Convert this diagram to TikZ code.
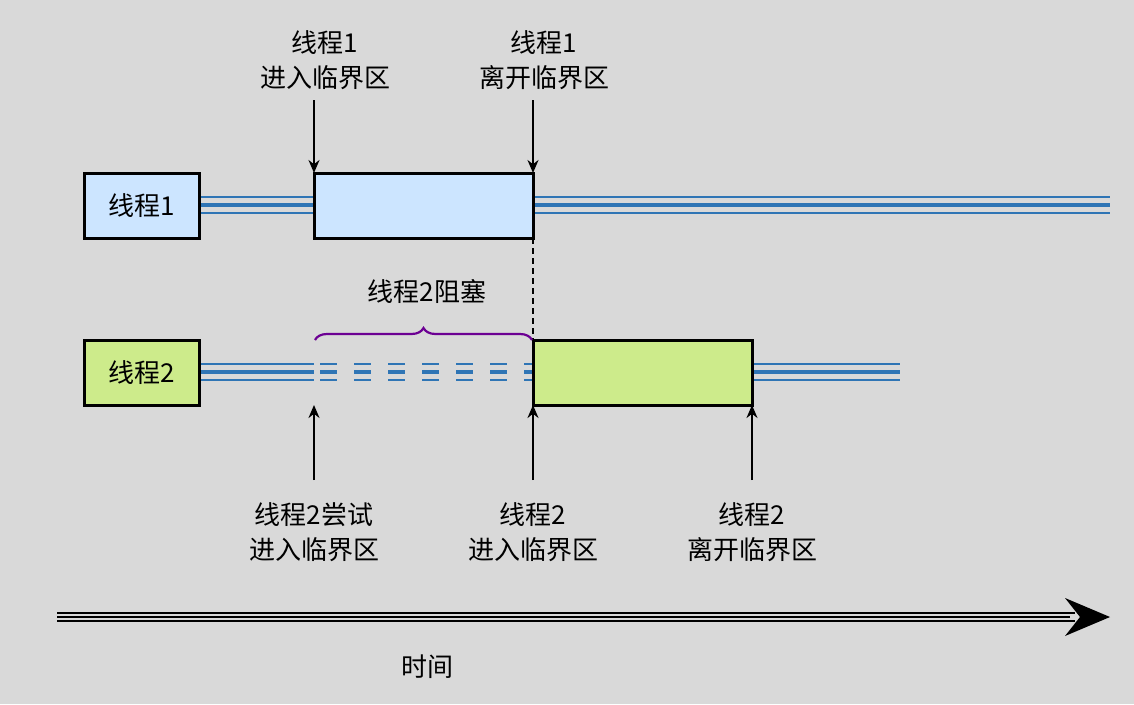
\documentclass[tikz,border=0pt]{standalone}
\usepackage{fontspec}
\setmainfont{Noto Sans CJK SC}
\usetikzlibrary{decorations.pathreplacing,arrows.meta}
\begin{document}
\begin{tikzpicture}[x=1pt,y=-1pt,
  box/.style={draw,line width=3pt,minimum width=#1,minimum height=65pt,inner sep=0pt,outer sep=0pt,anchor=north west},
  lbl/.style={font=\fontsize{26}{35}\selectfont,align=center},
  arr/.style={line width=2pt,-{Stealth[length=13pt,width=11pt]}}]
\fill[gray!30] (0,0) rectangle (1134,704);
\useasboundingbox (0,0) rectangle (1134,704);
\definecolor{ln}{HTML}{2F75B5}
\definecolor{bl}{HTML}{CCE5FF}
\definecolor{gr}{HTML}{CDEB8B}
% lanes
\foreach \y/\xa/\xb in {205/199/314, 205/533/1110, 372/199/314, 372/752/900}{
  \draw[ln,line width=4pt] (\xa,\y) -- (\xb,\y);
  \draw[ln,line width=2.2pt] (\xa,\y-8) -- (\xb,\y-8);
  \draw[ln,line width=2.2pt] (\xa,\y+8) -- (\xb,\y+8);
}
\foreach \y/\w in {364/2.2pt,372/4pt,380/2.2pt}{
  \draw[ln,line width=\w,dash pattern=on 17pt off 17pt] (320,\y) -- (533,\y);
}
\node[box=115pt,fill=bl,lbl] (t1) at (84,173) {线程1};
\node[box=219pt,fill=bl] (c1) at (314,173) {};
\node[box=115pt,fill=gr,lbl] (t2) at (84,340) {线程2};
\node[box=219pt,fill=gr] (c2) at (533,340) {};
\draw[line width=2pt,dash pattern=on 6pt off 4pt] (c1.south east) -- (c2.north west);
% top labels
\node[lbl] (l1) at (325,60) {线程1\\进入临界区};
\node[lbl] (l2) at (544,60) {线程1\\离开临界区};
\coordinate (a1) at (314,100); \coordinate (a2) at (533,100);
\draw[arr] (a1) -- (c1.north west);
\draw[arr] (a2) -- (c1.north east);
% bottom labels
\node[lbl] (b1) at (314,532) {线程2尝试\\进入临界区};
\node[lbl] (b2) at (533,532) {线程2\\进入临界区};
\node[lbl] (b3) at (752,532) {线程2\\离开临界区};
\coordinate (p1) at (314,480); \coordinate (p2) at (533,480); \coordinate (p3) at (752,480);
\coordinate (q1) at (314,405);
\draw[arr] (p1) -- (q1);
\draw[arr] (p2) -- (c2.south west);
\draw[arr] (p3) -- (c2.south east);
% brace
\coordinate (br1) at (315,340); \coordinate (br2) at (532,340);
\draw[violet!85!blue,line width=2.2pt,decorate,decoration={brace,amplitude=12pt,aspect=0.5}] (br1) -- (br2);
\node[lbl] (blk) at (427,291) {线程2阻塞};
% time
\coordinate (ts) at (57,617); \coordinate (te) at (1070,617);
\draw[line width=1.2pt] (57,613) -- (1075,613);
\draw[line width=2.6pt] (ts) -- (te);
\draw[line width=1.2pt] (57,621) -- (1075,621);
\fill (1110,617) -- (1065,598) -- (1080,617) -- (1065,636) -- cycle;
\node[lbl] (time) at (427,667) {时间};
\end{tikzpicture}
\end{document}
